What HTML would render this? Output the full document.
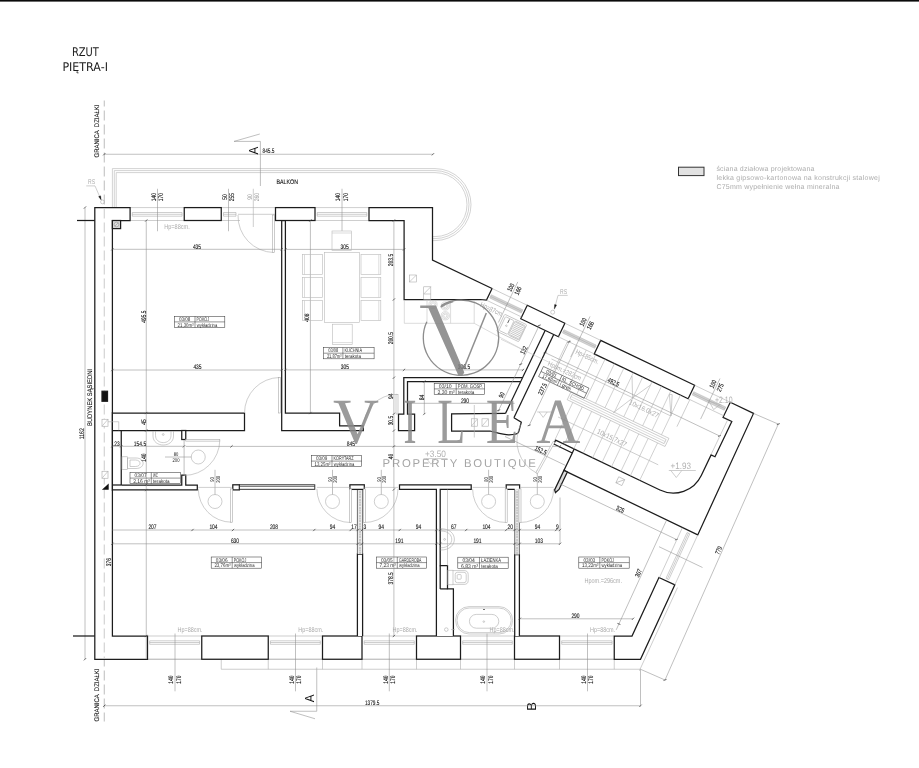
<!DOCTYPE html>
<html lang="pl"><head><meta charset="utf-8"><title>Rzut piętra I</title>
<style>
html,body{margin:0;padding:0;background:#fff;}
body{width:919px;height:768px;overflow:hidden;position:relative;font-family:"Liberation Sans",sans-serif;}
svg{position:absolute;left:0;top:0;display:block;will-change:transform;text-rendering:geometricPrecision}
.w{fill:#fff;stroke:#1c1c1c;stroke-width:1.25;stroke-linejoin:miter}
.wn{fill:none;stroke:#1c1c1c;stroke-width:1.25;stroke-linejoin:miter}
.w2{fill:#fff;stroke:#222;stroke-width:0.9}
.t{fill:none;stroke:#8c8c8c;stroke-width:0.55}
.tk{fill:none;stroke:#333;stroke-width:0.7}
.g{fill:none;stroke:#adadad;stroke-width:0.6}
.st{fill:none;stroke:#b2b2b2;stroke-width:0.6}
.fu{fill:none;stroke:#bababa;stroke-width:0.6}
.gr{fill:none;stroke:#b6b6b6;stroke-width:0.6}
.gl{fill:none;stroke:#c4c4c4;stroke-width:0.6}
.gf{fill:#fff;stroke:#a9a9a9;stroke-width:0.6}
.hb{fill:#ececec;stroke:none}
.wb{fill:#d4d4d4;stroke:#a4a4a4;stroke-width:0.4}
.d{font-family:"Liberation Sans",sans-serif;font-size:6.6px;fill:#151515;stroke:#151515;stroke-width:0.12}
.ds{font-family:"Liberation Sans",sans-serif;font-size:5.5px;fill:#151515}
.dg{font-family:"Liberation Sans",sans-serif;font-size:6.6px;fill:#9a9a9a}
.gt{font-family:"Liberation Sans",sans-serif;font-size:7px;fill:#ababab}
.gb{font-family:"Liberation Sans",sans-serif;font-size:9.3px;fill:#b2b2b2}
.lg{font-family:"Liberation Sans",sans-serif;font-size:7px;fill:#adadad}
.tg{fill:none;stroke:#3a3a3a;stroke-width:0.55}
.tt{font-family:"Liberation Sans",sans-serif;font-size:5.3px;fill:#2c2c2c}
.ti{font-family:"DejaVu Sans","Liberation Sans",sans-serif;font-size:12px;fill:#1a1a1a}
.sec{font-family:"Liberation Sans",sans-serif;font-size:13px;fill:#111}
.wm{fill:#808080}
</style></head><body>
<svg width="919" height="768" viewBox="0 0 919 768">
<rect x="0" y="0" width="919" height="1.6" fill="#0a0a0a"/>
<text class="ti" x="85.4" y="56.3" text-anchor="middle" textLength="27" lengthAdjust="spacingAndGlyphs">RZUT</text>
<text class="ti" x="85.2" y="70.6" text-anchor="middle" textLength="45.5" lengthAdjust="spacingAndGlyphs">PIĘTRA-I</text>
<line x1="104.25" y1="100.5" x2="104.25" y2="721.5" stroke="#ababab" stroke-width="0.8" stroke-dasharray="10 4" stroke-dashoffset="4"/>
<text class="d" transform="translate(99.4 131) rotate(-90)" text-anchor="middle" textLength="53" lengthAdjust="spacingAndGlyphs">GRANICA  DZIAŁKI</text>
<text class="d" transform="translate(99.4 695) rotate(-90)" text-anchor="middle" textLength="53" lengthAdjust="spacingAndGlyphs">GRANICA  DZIAŁKI</text>
<text class="d" transform="translate(92.3 397.5) rotate(-90)" text-anchor="middle" textLength="57" lengthAdjust="spacingAndGlyphs">BUDYNEK SĄSIEDNI</text>
<path class="gr" d="M112.4 207.5 V168.6 H435 A36 36 0 0 1 435 240.6 H432.5"/>
<path class="gr" d="M114.3 207.5 V170.6 H435 A34 34 0 0 1 435 238.6 H432.5"/>
<path class="gr" d="M116.2 207.5 V172.6 H435 A32 32 0 0 1 435 236.6 H432.5"/>
<text class="d" transform="translate(287.3 184.3)" text-anchor="middle" textLength="21.5" lengthAdjust="spacingAndGlyphs">BALKON</text>
<line class="t" x1="104.25" y1="154.25" x2="433" y2="154.25"/>
<line class="tk" x1="103.12" y1="155.38" x2="105.38" y2="153.12"/>
<line class="tk" x1="431.87" y1="155.38" x2="434.13" y2="153.12"/>
<text class="d" transform="translate(268.5 153.2)" text-anchor="middle" textLength="12" lengthAdjust="spacingAndGlyphs">845.5</text>
<line class="t" x1="260.4" y1="141.4" x2="260.4" y2="186"/>
<line class="t" x1="234" y1="141.4" x2="260.4" y2="141.4"/>
<line class="t" x1="234" y1="141.4" x2="259.8" y2="134"/>
<text class="sec" transform="translate(257.6 150.5) rotate(-90)" text-anchor="middle" textLength="7.8" lengthAdjust="spacingAndGlyphs">A</text>
<line class="t" x1="316.75" y1="667.5" x2="316.75" y2="711.25"/>
<line class="t" x1="290" y1="711.25" x2="316.75" y2="711.25"/>
<line class="t" x1="290" y1="711.25" x2="315" y2="718.75"/>
<text class="sec" transform="translate(313.8 698.4) rotate(-90)" text-anchor="middle" textLength="7.8" lengthAdjust="spacingAndGlyphs">A</text>
<text class="sec" transform="translate(536.3 706.5) rotate(-90)" text-anchor="middle">B</text>
<line class="t" x1="104.25" y1="705.75" x2="640.5" y2="705.75"/>
<line class="tk" x1="103.12" y1="706.88" x2="105.38" y2="704.62"/>
<line class="tk" x1="639.37" y1="706.88" x2="641.63" y2="704.62"/>
<text class="d" transform="translate(372.2 704.9)" text-anchor="middle" textLength="14.5" lengthAdjust="spacingAndGlyphs">1379.5</text>
<line class="t" x1="640.5" y1="669.25" x2="640.5" y2="706.5"/>
<line class="t" x1="85" y1="207.5" x2="85" y2="659.25"/>
<line class="tk" x1="83.87" y1="208.63" x2="86.13" y2="206.37"/>
<line class="tk" x1="83.87" y1="660.38" x2="86.13" y2="658.12"/>
<text class="d" transform="translate(84.3 433.75) rotate(-90)" text-anchor="middle" textLength="11" lengthAdjust="spacingAndGlyphs">1162</text>
<line class="g" x1="130.1" y1="207.6" x2="184.25" y2="207.6"/>
<line class="g" x1="130.1" y1="220.5" x2="184.25" y2="220.5"/>
<line class="g" x1="132.3" y1="212.5" x2="182.05" y2="212.5"/>
<line class="g" x1="132.3" y1="214.3" x2="182.05" y2="214.3"/>
<line class="g" x1="132.3" y1="216.2" x2="182.05" y2="216.2"/>
<line class="g" x1="132.3" y1="212.5" x2="132.3" y2="216.2"/>
<line class="g" x1="182.05" y1="212.5" x2="182.05" y2="216.2"/>
<line class="g" x1="315" y1="207.6" x2="369" y2="207.6"/>
<line class="g" x1="315" y1="220.5" x2="369" y2="220.5"/>
<line class="g" x1="317.2" y1="212.5" x2="366.8" y2="212.5"/>
<line class="g" x1="317.2" y1="214.3" x2="366.8" y2="214.3"/>
<line class="g" x1="317.2" y1="216.2" x2="366.8" y2="216.2"/>
<line class="g" x1="317.2" y1="212.5" x2="317.2" y2="216.2"/>
<line class="g" x1="366.8" y1="212.5" x2="366.8" y2="216.2"/>
<line class="g" x1="221.25" y1="207.6" x2="275.5" y2="207.6"/>
<line class="g" x1="221.25" y1="220.5" x2="240" y2="220.5"/>
<line class="g" x1="223.5" y1="212.5" x2="236" y2="212.5"/>
<line class="g" x1="223.5" y1="214.3" x2="236" y2="214.3"/>
<line class="g" x1="223.5" y1="216.2" x2="236" y2="216.2"/>
<line class="g" x1="223.5" y1="212.5" x2="223.5" y2="216.2"/>
<line class="g" x1="236" y1="212.5" x2="236" y2="216.2"/>
<line class="g" x1="238" y1="214.3" x2="275.5" y2="214.3"/>
<path class="g" d="M238 215 A36.5 36.5 0 0 0 273.8 252.5"/>
<rect class="gf" x="272.6" y="215" width="2" height="37.5"/>
<line class="g" x1="147.5" y1="636" x2="201.75" y2="636"/>
<line class="g" x1="147.5" y1="659.25" x2="201.75" y2="659.25"/>
<line class="g" x1="149.7" y1="640.8" x2="199.55" y2="640.8"/>
<line class="g" x1="149.7" y1="642.5" x2="199.55" y2="642.5"/>
<line class="g" x1="149.7" y1="644.3" x2="199.55" y2="644.3"/>
<line class="g" x1="149.7" y1="640.8" x2="149.7" y2="644.3"/>
<line class="g" x1="199.55" y1="640.8" x2="199.55" y2="644.3"/>
<line class="g" x1="268.25" y1="636" x2="322.5" y2="636"/>
<line class="g" x1="268.25" y1="659.25" x2="322.5" y2="659.25"/>
<line class="g" x1="270.45" y1="640.8" x2="320.3" y2="640.8"/>
<line class="g" x1="270.45" y1="642.5" x2="320.3" y2="642.5"/>
<line class="g" x1="270.45" y1="644.3" x2="320.3" y2="644.3"/>
<line class="g" x1="270.45" y1="640.8" x2="270.45" y2="644.3"/>
<line class="g" x1="320.3" y1="640.8" x2="320.3" y2="644.3"/>
<line class="g" x1="362" y1="636" x2="416.5" y2="636"/>
<line class="g" x1="362" y1="659.25" x2="416.5" y2="659.25"/>
<line class="g" x1="364.2" y1="640.8" x2="414.3" y2="640.8"/>
<line class="g" x1="364.2" y1="642.5" x2="414.3" y2="642.5"/>
<line class="g" x1="364.2" y1="644.3" x2="414.3" y2="644.3"/>
<line class="g" x1="364.2" y1="640.8" x2="364.2" y2="644.3"/>
<line class="g" x1="414.3" y1="640.8" x2="414.3" y2="644.3"/>
<line class="g" x1="460.5" y1="636" x2="514.5" y2="636"/>
<line class="g" x1="460.5" y1="659.25" x2="514.5" y2="659.25"/>
<line class="g" x1="462.7" y1="640.8" x2="512.3" y2="640.8"/>
<line class="g" x1="462.7" y1="642.5" x2="512.3" y2="642.5"/>
<line class="g" x1="462.7" y1="644.3" x2="512.3" y2="644.3"/>
<line class="g" x1="462.7" y1="640.8" x2="462.7" y2="644.3"/>
<line class="g" x1="512.3" y1="640.8" x2="512.3" y2="644.3"/>
<line class="g" x1="559.5" y1="636" x2="614.25" y2="636"/>
<line class="g" x1="559.5" y1="659.25" x2="614.25" y2="659.25"/>
<line class="g" x1="561.7" y1="640.8" x2="612.05" y2="640.8"/>
<line class="g" x1="561.7" y1="642.5" x2="612.05" y2="642.5"/>
<line class="g" x1="561.7" y1="644.3" x2="612.05" y2="644.3"/>
<line class="g" x1="561.7" y1="640.8" x2="561.7" y2="644.3"/>
<line class="g" x1="612.05" y1="640.8" x2="612.05" y2="644.3"/>
<line class="g" x1="221.25" y1="669.25" x2="640.5" y2="669.25"/>
<line class="g" x1="221.25" y1="659.25" x2="221.25" y2="669.25"/>
<line class="g" x1="268.25" y1="659.25" x2="268.25" y2="669.25"/>
<line class="g" x1="322.5" y1="659.25" x2="322.5" y2="669.25"/>
<line class="g" x1="362" y1="659.25" x2="362" y2="669.25"/>
<line class="g" x1="416.5" y1="659.25" x2="416.5" y2="669.25"/>
<line class="g" x1="460.5" y1="659.25" x2="460.5" y2="669.25"/>
<line class="g" x1="514.5" y1="659.25" x2="514.5" y2="669.25"/>
<line class="g" x1="559.5" y1="659.25" x2="559.5" y2="669.25"/>
<line class="g" x1="614.25" y1="659.25" x2="614.25" y2="669.25"/>
<line class="g" x1="147.5" y1="659.25" x2="640.5" y2="659.25"/>
<polygon class="w" points="94.8,207.7 130.1,207.7 130.1,220.5 112.4,220.5 112.4,636 147.5,636 147.5,659.25 94.8,659.25"/>
<line class="wn" x1="77" y1="220.5" x2="94.8" y2="220.5"/>
<line class="wn" x1="73" y1="636" x2="94.8" y2="636"/>
<line x1="104.25" y1="209" x2="104.25" y2="658" stroke="#bdbdbd" stroke-width="0.8" stroke-dasharray="10 4" stroke-dashoffset="0.5"/>
<rect class="w" x="184.25" y="207.6" width="37" height="12.9"/>
<rect class="w" x="275.5" y="207.6" width="39.5" height="12.9"/>
<polygon class="w" points="369,207.6 432.5,207.6 432.5,260 492.05,288.46 486.49,300.09 480.3,299.5 404.1,299.5 404.1,220.5 369,220.5"/>
<rect class="w" x="201.75" y="636" width="66.5" height="23.25"/>
<rect class="w" x="322.5" y="636" width="39.5" height="23.25"/>
<rect class="w" x="416.5" y="636" width="44" height="23.25"/>
<rect class="w" x="514.5" y="636" width="45" height="23.25"/>
<polygon class="w" points="614.25,636 632,636 658.93,577.51 674.84,584.81 640.5,659.25 614.25,659.25"/>
<rect class="w" x="112.4" y="220.5" width="8.2" height="8.1" style="fill:#ddd"/>
<circle class="t" cx="116.5" cy="224.5" r="2.4"/>
<line class="t" x1="114.8" y1="226.2" x2="118.2" y2="222.8"/>
<polyline class="w" points="112.4,413 244.5,413 244.5,430.5 112.4,430.5"/>
<line class="wn" x1="121.25" y1="430.5" x2="121.25" y2="485"/>
<rect class="w" x="181.75" y="430.5" width="4" height="9"/>
<polyline class="w" points="121.25,485 181.75,485 181.75,475.2 185.75,475.2 185.75,485 197.3,485 197.3,489.8 112.4,489.8"/>
<line class="wn" x1="112.4" y1="412" x2="112.4" y2="491"/>
<line class="wn" x1="112.4" y1="485" x2="121.25" y2="485"/>
<polygon class="w" points="281.7,220.5 285.4,220.5 285.4,413 339.6,413 339.6,425.8 363.3,425.8 363.3,430.6 281.7,430.6"/>
<polyline class="w" points="522.55,377.7 403.8,377.7 403.8,414 398.5,414 398.5,430.6 414.6,430.6 414.6,414 407.5,414 407.5,381.5 520.74,381.5"/>
<polyline class="wn" points="545.13,330.44 505.47,413.46"/>
<path class="wn" d="M505.47 413.46 L451.6 413.8 V431 L490 431 C500 433.5 505 435 509 434.8 C515 434.6 518.5 434 518.6 432 L521.3 422.2 L521.28 422.12 L513.91 417.82"/>
<polyline class="wn" points="513.91,417.82 553.71,334.54"/>
<polygon class="w" points="527.24,305.27 564.87,323.25 558.4,336.78 520.77,318.8"/>
<polygon class="w" points="600.69,340.36 694.61,385.25 688.15,398.78 594.22,353.9"/>
<path class="w" d="M730.25 402.28 L753.5 413.4 L697.74 534.92 L563.92 470.42 L572.28 452.92 L553.79 444.08 L555.64 440.2 L659.95 490.04 A31 31 0 0 0 701.28 475.43 L711.11 454.86 L714.99 456.72 L731.81 421.53 L723.05 417.34 Z"/>
<line class="wn" x1="574.14" y1="449.04" x2="572.28" y2="452.92"/>
<polygon class="w" points="563.92,470.42 567.35,472.06 559.03,489.47 555.46,492.54 554.61,489.91" style="fill:#ddd"/>
<rect class="w" x="232.8" y="484.8" width="6.6" height="5.1"/>
<rect class="w2" x="239.4" y="484.8" width="75.4" height="4.5"/>
<line class="tk" x1="239.4" y1="486.4" x2="314.8" y2="486.4"/>
<polyline class="w" points="357.4,636 357.4,554 362.6,554 362.6,636"/>
<rect class="hb" x="357.4" y="489.4" width="5.2" height="64.6"/>
<line x1="360" y1="489.4" x2="360" y2="554" stroke="#9a9a9a" stroke-width="1.6" stroke-dasharray="0.6 1"/>
<line class="tk" x1="357.4" y1="489.4" x2="357.4" y2="554"/>
<line class="tk" x1="362.6" y1="489.4" x2="362.6" y2="554"/>
<rect class="w" x="349.9" y="484.8" width="14.4" height="4.6"/>
<polyline class="w" points="436.4,636 436.4,489.3 399.5,489.3 399.5,484.8 471.2,484.8 471.2,489.3 440.2,489.3 440.2,565.6 447.5,565.6 447.5,588.9 453.4,588.9 453.4,636"/>
<line class="wn" x1="440.2" y1="565.6" x2="440.2" y2="588.9"/>
<line class="wn" x1="440.2" y1="588.9" x2="447.5" y2="588.9"/>
<polyline class="w" points="514.7,636 514.7,554.6 519.4,554.6 519.4,636"/>
<rect class="hb" x="514.7" y="489.4" width="4.7" height="65.2"/>
<line x1="517.05" y1="489.4" x2="517.05" y2="554.6" stroke="#9a9a9a" stroke-width="1.6" stroke-dasharray="0.6 1"/>
<line class="tk" x1="514.7" y1="489.4" x2="514.7" y2="554.6"/>
<line class="tk" x1="519.4" y1="489.4" x2="519.4" y2="554.6"/>
<polyline class="w" points="514.7,489.4 506.2,489.4 506.2,484.8 519.6,484.8 519.6,489.4"/>
<rect class="w" x="102" y="391.25" width="5.5" height="10" style="fill:#111"/>
<rect class="gf" x="102" y="419.25" width="6" height="7"/>
<line class="g" x1="102" y1="426.25" x2="108" y2="419.25"/>
<rect class="gf" x="102" y="471.25" width="6" height="7"/>
<line class="g" x1="102" y1="478.25" x2="108" y2="471.25"/>
<path class="g" d="M108 421.75 H118.75 V430.3"/>
<polygon class="w" points="108.7,483.4 108.7,489.7 101.9,489.7" style="fill:#111;stroke:none"/>
<text class="gt" transform="translate(91.5 183.6)" text-anchor="middle" textLength="7" lengthAdjust="spacingAndGlyphs">RS</text>
<path class="g" d="M86.25 185.9 H95 L100.3 198"/>
<polygon class="w" points="101.2,200 98.6,196.6 100.6,195.8" style="fill:#111;stroke-width:0.3"/>
<circle class="g" cx="102.5" cy="201.9" r="1.9"/>
<text class="gt" transform="translate(563.6 293.7)" text-anchor="middle" textLength="7" lengthAdjust="spacingAndGlyphs">RS</text>
<path class="g" d="M567.7 295.4 H558 L555.2 306"/>
<polygon class="w" points="554.3,309.2 554.6,304.4 556.6,305" style="fill:#111;stroke-width:0.3"/>
<circle class="g" cx="552.7" cy="312.2" r="2"/>
<line class="t" x1="112.4" y1="249.3" x2="281.7" y2="249.3"/>
<line class="tk" x1="111.27" y1="250.43" x2="113.53" y2="248.17"/>
<line class="tk" x1="280.57" y1="250.43" x2="282.83" y2="248.17"/>
<text class="d" transform="translate(197 248.5)" text-anchor="middle" textLength="8.25" lengthAdjust="spacingAndGlyphs">435</text>
<line class="t" x1="112.4" y1="370" x2="281.7" y2="370"/>
<line class="tk" x1="111.27" y1="371.13" x2="113.53" y2="368.87"/>
<line class="tk" x1="280.57" y1="371.13" x2="282.83" y2="368.87"/>
<text class="d" transform="translate(197.5 369.1)" text-anchor="middle" textLength="8.25" lengthAdjust="spacingAndGlyphs">435</text>
<line class="t" x1="146.25" y1="220.5" x2="146.25" y2="659.25"/>
<line class="tk" x1="145.12" y1="221.63" x2="147.38" y2="219.37"/>
<line class="tk" x1="145.12" y1="414.13" x2="147.38" y2="411.87"/>
<line class="tk" x1="145.12" y1="431.63" x2="147.38" y2="429.37"/>
<line class="tk" x1="145.12" y1="485.63" x2="147.38" y2="483.37"/>
<line class="tk" x1="145.12" y1="491.13" x2="147.38" y2="488.87"/>
<line class="tk" x1="145.12" y1="637.13" x2="147.38" y2="634.87"/>
<text class="d" transform="translate(145.5 316.6) rotate(-90)" text-anchor="middle" textLength="12.3" lengthAdjust="spacingAndGlyphs">495.5</text>
<text class="d" transform="translate(145.5 422) rotate(-90)" text-anchor="middle" textLength="5.5" lengthAdjust="spacingAndGlyphs">45</text>
<text class="d" transform="translate(145.5 457.5) rotate(-90)" text-anchor="middle" textLength="8.25" lengthAdjust="spacingAndGlyphs">140</text>
<g transform="translate(174.4 316.3)">
<rect class="tg" x="0" y="0" width="50.4" height="11.2"/>
<line class="tg" x1="0" y1="5.6" x2="50.4" y2="5.6"/>
<line class="tg" x1="20.6" y1="0" x2="20.6" y2="11.2"/>
<text class="tt" x="4.6" y="4.8" textLength="11.4" lengthAdjust="spacingAndGlyphs">03/08</text>
<text class="tt" x="22.2" y="4.8" textLength="12.5" lengthAdjust="spacingAndGlyphs">POKÓJ</text>
<text class="tt" x="3.2" y="10.4" textLength="16" lengthAdjust="spacingAndGlyphs">21,30m²</text>
<text class="tt" x="22.4" y="10.4" textLength="20.5" lengthAdjust="spacingAndGlyphs">wykładzina</text>
</g>
<text class="gt" transform="translate(164.2 228.9)" text-anchor="start" textLength="25.5" lengthAdjust="spacingAndGlyphs">Hp=88cm.</text>
<line class="t" x1="157.5" y1="188.75" x2="157.5" y2="231.25"/>
<text class="d" transform="translate(155.9 197) rotate(-90)" text-anchor="middle" textLength="8.25" lengthAdjust="spacingAndGlyphs">140</text>
<text class="d" transform="translate(163.4 197) rotate(-90)" text-anchor="middle" textLength="8.25" lengthAdjust="spacingAndGlyphs">170</text>
<line class="t" x1="228.5" y1="188.75" x2="228.5" y2="231.25"/>
<text class="d" transform="translate(226.9 197) rotate(-90)" text-anchor="middle" textLength="5.5" lengthAdjust="spacingAndGlyphs">50</text>
<text class="d" transform="translate(234.4 197) rotate(-90)" text-anchor="middle" textLength="8.25" lengthAdjust="spacingAndGlyphs">255</text>
<line class="g" x1="253.3" y1="188.75" x2="253.3" y2="227"/>
<text class="dg" transform="translate(251.7 197) rotate(-90)" text-anchor="middle" textLength="5.5" lengthAdjust="spacingAndGlyphs">90</text>
<text class="dg" transform="translate(259.2 197) rotate(-90)" text-anchor="middle" textLength="8.25" lengthAdjust="spacingAndGlyphs">260</text>
<line class="t" x1="342" y1="188.75" x2="342" y2="231"/>
<text class="d" transform="translate(340.4 197) rotate(-90)" text-anchor="middle" textLength="8.25" lengthAdjust="spacingAndGlyphs">140</text>
<text class="d" transform="translate(347.9 197) rotate(-90)" text-anchor="middle" textLength="8.25" lengthAdjust="spacingAndGlyphs">170</text>
<path class="g" d="M279.6 377.5 A35.5 35.5 0 0 0 244.5 413"/>
<rect class="gf" x="278.6" y="377.5" width="2" height="35.5"/>
<line class="t" x1="112.4" y1="446.3" x2="184" y2="446.3"/>
<line class="tk" x1="111.27" y1="447.43" x2="113.53" y2="445.17"/>
<line class="tk" x1="120.12" y1="447.43" x2="122.38" y2="445.17"/>
<line class="tk" x1="182.87" y1="447.43" x2="185.13" y2="445.17"/>
<text class="d" transform="translate(117 445.7)" text-anchor="middle" textLength="5.5" lengthAdjust="spacingAndGlyphs">23</text>
<text class="d" transform="translate(140 445.7)" text-anchor="middle" textLength="12.3" lengthAdjust="spacingAndGlyphs">154.5</text>
<g transform="translate(130 472.5)">
<rect class="tg" x="0" y="0" width="50.4" height="11.2"/>
<line class="tg" x1="0" y1="5.6" x2="50.4" y2="5.6"/>
<line class="tg" x1="21.3" y1="0" x2="21.3" y2="11.2"/>
<text class="tt" x="4.6" y="4.8" textLength="12.1" lengthAdjust="spacingAndGlyphs">03/07</text>
<text class="tt" x="22.9" y="4.8" textLength="5" lengthAdjust="spacingAndGlyphs">WC</text>
<text class="tt" x="3.2" y="10.4" textLength="16.7" lengthAdjust="spacingAndGlyphs">2,16 m²</text>
<text class="tt" x="23.1" y="10.4" textLength="16.4" lengthAdjust="spacingAndGlyphs">terakota</text>
</g>
<path class="g" d="M219.8 440.3 A35.6 35.6 0 0 1 184.2 475.4"/>
<rect class="gf" x="185.75" y="439.5" width="34.05" height="1.6"/>
<line class="t" x1="184.1" y1="440" x2="184.1" y2="475"/>
<circle class="g" cx="198.25" cy="457" r="7"/>
<line class="t" x1="165" y1="457" x2="191.25" y2="457"/>
<text class="ds" transform="translate(176 456.1)" text-anchor="middle" textLength="4.62" lengthAdjust="spacingAndGlyphs">80</text>
<text class="ds" transform="translate(176 461.9)" text-anchor="middle" textLength="6.93" lengthAdjust="spacingAndGlyphs">200</text>
<path class="g" d="M153 431 V436 C153 448 173.5 448 173.5 436 V431"/>
<path class="g" d="M155.5 431 V435.5 C155.5 445 171 445 171 435.5 V431"/>
<circle class="g" cx="163.2" cy="434.5" r="0.9"/>
<rect class="g" x="122" y="456.8" width="5.5" height="12.7"/>
<path class="g" d="M127.5 458 H136 C145.5 458 145.5 468.5 136 468.5 H127.5 Z"/>
<path class="g" d="M130 460 H135.5 C141.5 460 141.5 466.5 135.5 466.5 H130 Z"/>
<line class="t" x1="112.4" y1="446.4" x2="112.4" y2="446.4"/>
<line class="t" x1="185.75" y1="446.4" x2="560" y2="446.4"/>
<line class="tk" x1="230.37" y1="447.53" x2="232.63" y2="445.27"/>
<line class="tk" x1="558.87" y1="447.53" x2="561.13" y2="445.27"/>
<text class="d" transform="translate(350.8 445.6)" text-anchor="middle" textLength="8.25" lengthAdjust="spacingAndGlyphs">845</text>
<g transform="translate(311.3 455.5)">
<rect class="tg" x="0" y="0" width="50.4" height="11.2"/>
<line class="tg" x1="0" y1="5.6" x2="50.4" y2="5.6"/>
<line class="tg" x1="20.7" y1="0" x2="20.7" y2="11.2"/>
<text class="tt" x="4.6" y="4.8" textLength="11.5" lengthAdjust="spacingAndGlyphs">03/09</text>
<text class="tt" x="22.3" y="4.8" textLength="20" lengthAdjust="spacingAndGlyphs">KORYTARZ</text>
<text class="tt" x="3.2" y="10.4" textLength="16.1" lengthAdjust="spacingAndGlyphs">13,25m²</text>
<text class="tt" x="22.5" y="10.4" textLength="20.5" lengthAdjust="spacingAndGlyphs">wykładzina</text>
</g>
<path class="g" d="M231.6 522.2 A33.3 33.3 0 0 1 198.3 488.9"/>
<rect class="gf" x="230.6" y="488.9" width="2" height="33.3"/>
<circle class="g" cx="215" cy="501.5" r="7"/>
<line class="t" x1="215" y1="469.8" x2="215" y2="494.5"/>
<line class="g" x1="231.6" y1="487.4" x2="198.3" y2="487.4"/>
<text class="ds" transform="translate(214.3 479.4) rotate(-90)" text-anchor="middle" textLength="4.62" lengthAdjust="spacingAndGlyphs">90</text>
<text class="ds" transform="translate(219.8 479.4) rotate(-90)" text-anchor="middle" textLength="6.93" lengthAdjust="spacingAndGlyphs">200</text>
<path class="g" d="M350.5 522.5 A33.6 33.6 0 0 1 316.9 488.9"/>
<rect class="gf" x="349.5" y="488.9" width="2" height="33.6"/>
<circle class="g" cx="332.5" cy="501.5" r="7"/>
<line class="t" x1="332.5" y1="469.8" x2="332.5" y2="494.5"/>
<line class="g" x1="350.5" y1="487.4" x2="316.9" y2="487.4"/>
<text class="ds" transform="translate(331.8 479.4) rotate(-90)" text-anchor="middle" textLength="4.62" lengthAdjust="spacingAndGlyphs">90</text>
<text class="ds" transform="translate(337.3 479.4) rotate(-90)" text-anchor="middle" textLength="6.93" lengthAdjust="spacingAndGlyphs">200</text>
<path class="g" d="M364.4 522.5 A33.6 33.6 0 0 0 398 488.9"/>
<rect class="gf" x="363.4" y="488.9" width="2" height="33.6"/>
<circle class="g" cx="381.3" cy="501.5" r="7"/>
<line class="t" x1="381.3" y1="469.8" x2="381.3" y2="494.5"/>
<line class="g" x1="364.4" y1="487.4" x2="398" y2="487.4"/>
<text class="ds" transform="translate(380.6 479.4) rotate(-90)" text-anchor="middle" textLength="4.62" lengthAdjust="spacingAndGlyphs">90</text>
<text class="ds" transform="translate(386.1 479.4) rotate(-90)" text-anchor="middle" textLength="6.93" lengthAdjust="spacingAndGlyphs">200</text>
<path class="g" d="M506.2 522.5 A33.6 33.6 0 0 1 472.6 488.9"/>
<rect class="gf" x="505.2" y="488.9" width="2" height="33.6"/>
<circle class="g" cx="488.6" cy="501.5" r="7"/>
<line class="t" x1="488.6" y1="469.8" x2="488.6" y2="494.5"/>
<line class="g" x1="506.2" y1="487.4" x2="472.6" y2="487.4"/>
<text class="ds" transform="translate(487.9 479.4) rotate(-90)" text-anchor="middle" textLength="4.62" lengthAdjust="spacingAndGlyphs">80</text>
<text class="ds" transform="translate(493.4 479.4) rotate(-90)" text-anchor="middle" textLength="6.93" lengthAdjust="spacingAndGlyphs">200</text>
<path class="g" d="M520 522.5 A33.6 33.6 0 0 0 553.6 488.9"/>
<rect class="gf" x="519" y="488.9" width="2" height="33.6"/>
<circle class="g" cx="537.3" cy="501.5" r="7"/>
<line class="t" x1="537.3" y1="469.8" x2="537.3" y2="494.5"/>
<line class="g" x1="520" y1="487.4" x2="553.6" y2="487.4"/>
<text class="ds" transform="translate(536.6 479.4) rotate(-90)" text-anchor="middle" textLength="4.62" lengthAdjust="spacingAndGlyphs">90</text>
<text class="ds" transform="translate(542.1 479.4) rotate(-90)" text-anchor="middle" textLength="6.93" lengthAdjust="spacingAndGlyphs">200</text>
<line class="t" x1="112.4" y1="530" x2="560" y2="530"/>
<line class="tk" x1="191.37" y1="531.13" x2="193.63" y2="528.87"/>
<line class="tk" x1="231.87" y1="531.13" x2="234.13" y2="528.87"/>
<line class="tk" x1="313.17" y1="531.13" x2="315.43" y2="528.87"/>
<line class="tk" x1="349.57" y1="531.13" x2="351.83" y2="528.87"/>
<line class="tk" x1="356.57" y1="531.13" x2="358.83" y2="528.87"/>
<line class="tk" x1="360.87" y1="531.13" x2="363.13" y2="528.87"/>
<line class="tk" x1="398.57" y1="531.13" x2="400.83" y2="528.87"/>
<line class="tk" x1="435.27" y1="531.13" x2="437.53" y2="528.87"/>
<line class="tk" x1="439.17" y1="531.13" x2="441.43" y2="528.87"/>
<line class="tk" x1="465.07" y1="531.13" x2="467.33" y2="528.87"/>
<line class="tk" x1="505.07" y1="531.13" x2="507.33" y2="528.87"/>
<line class="tk" x1="513.47" y1="531.13" x2="515.73" y2="528.87"/>
<line class="tk" x1="518.47" y1="531.13" x2="520.73" y2="528.87"/>
<line class="tk" x1="555.07" y1="531.13" x2="557.33" y2="528.87"/>
<line class="tk" x1="558.87" y1="531.13" x2="561.13" y2="528.87"/>
<text class="d" transform="translate(213.5 529.3)" text-anchor="middle" textLength="8.25" lengthAdjust="spacingAndGlyphs">104</text>
<text class="d" transform="translate(274 529.3)" text-anchor="middle" textLength="8.25" lengthAdjust="spacingAndGlyphs">208</text>
<text class="d" transform="translate(332.5 529.3)" text-anchor="middle" textLength="5.5" lengthAdjust="spacingAndGlyphs">94</text>
<text class="d" transform="translate(354 529.3)" text-anchor="middle" textLength="5.5" lengthAdjust="spacingAndGlyphs">17</text>
<text class="d" transform="translate(364.8 529.3)" text-anchor="middle" textLength="2.75" lengthAdjust="spacingAndGlyphs">3</text>
<text class="d" transform="translate(381.3 529.3)" text-anchor="middle" textLength="5.5" lengthAdjust="spacingAndGlyphs">94</text>
<text class="d" transform="translate(418.5 529.3)" text-anchor="middle" textLength="5.5" lengthAdjust="spacingAndGlyphs">94</text>
<text class="d" transform="translate(453.8 529.3)" text-anchor="middle" textLength="5.5" lengthAdjust="spacingAndGlyphs">67</text>
<text class="d" transform="translate(486.5 529.3)" text-anchor="middle" textLength="8.25" lengthAdjust="spacingAndGlyphs">104</text>
<text class="d" transform="translate(510.2 529.3)" text-anchor="middle" textLength="5.5" lengthAdjust="spacingAndGlyphs">20</text>
<text class="d" transform="translate(537.5 529.3)" text-anchor="middle" textLength="5.5" lengthAdjust="spacingAndGlyphs">94</text>
<text class="d" transform="translate(557.3 529.3)" text-anchor="middle" textLength="2.75" lengthAdjust="spacingAndGlyphs">9</text>
<text class="d" transform="translate(152.5 529.3)" text-anchor="middle" textLength="8.25" lengthAdjust="spacingAndGlyphs">207</text>
<line class="t" x1="112.4" y1="543.8" x2="560" y2="543.8"/>
<line class="tk" x1="111.27" y1="544.93" x2="113.53" y2="542.67"/>
<line class="tk" x1="356.57" y1="544.93" x2="358.83" y2="542.67"/>
<line class="tk" x1="360.87" y1="544.93" x2="363.13" y2="542.67"/>
<line class="tk" x1="435.27" y1="544.93" x2="437.53" y2="542.67"/>
<line class="tk" x1="439.17" y1="544.93" x2="441.43" y2="542.67"/>
<line class="tk" x1="513.47" y1="544.93" x2="515.73" y2="542.67"/>
<line class="tk" x1="518.47" y1="544.93" x2="520.73" y2="542.67"/>
<line class="tk" x1="558.87" y1="544.93" x2="561.13" y2="542.67"/>
<text class="d" transform="translate(235 542.9)" text-anchor="middle" textLength="8.25" lengthAdjust="spacingAndGlyphs">630</text>
<text class="d" transform="translate(399.3 542.9)" text-anchor="middle" textLength="8.25" lengthAdjust="spacingAndGlyphs">191</text>
<text class="d" transform="translate(477.5 542.9)" text-anchor="middle" textLength="8.25" lengthAdjust="spacingAndGlyphs">191</text>
<text class="d" transform="translate(538.8 542.9)" text-anchor="middle" textLength="8.25" lengthAdjust="spacingAndGlyphs">103</text>
<line class="t" x1="560" y1="497.5" x2="560" y2="543.8"/>
<g transform="translate(211.2 557)">
<rect class="tg" x="0" y="0" width="50.4" height="11.2"/>
<line class="tg" x1="0" y1="5.6" x2="50.4" y2="5.6"/>
<line class="tg" x1="21" y1="0" x2="21" y2="11.2"/>
<text class="tt" x="4.6" y="4.8" textLength="11.8" lengthAdjust="spacingAndGlyphs">03/06</text>
<text class="tt" x="22.6" y="4.8" textLength="12.5" lengthAdjust="spacingAndGlyphs">POKÓJ</text>
<text class="tt" x="3.2" y="10.4" textLength="16.4" lengthAdjust="spacingAndGlyphs">23,76m²</text>
<text class="tt" x="22.8" y="10.4" textLength="20.5" lengthAdjust="spacingAndGlyphs">wykładzina</text>
</g>
<g transform="translate(376.3 557)">
<rect class="tg" x="0" y="0" width="50.4" height="11.2"/>
<line class="tg" x1="0" y1="5.6" x2="50.4" y2="5.6"/>
<line class="tg" x1="21" y1="0" x2="21" y2="11.2"/>
<text class="tt" x="4.6" y="4.8" textLength="11.8" lengthAdjust="spacingAndGlyphs">03/05</text>
<text class="tt" x="22.6" y="4.8" textLength="22.5" lengthAdjust="spacingAndGlyphs">GARDEROBA</text>
<text class="tt" x="3.2" y="10.4" textLength="16.4" lengthAdjust="spacingAndGlyphs">7,23 m²</text>
<text class="tt" x="22.8" y="10.4" textLength="20.5" lengthAdjust="spacingAndGlyphs">wykładzina</text>
</g>
<g transform="translate(457.8 557.2)">
<rect class="tg" x="0" y="0" width="50.4" height="11.2"/>
<line class="tg" x1="0" y1="5.6" x2="50.4" y2="5.6"/>
<line class="tg" x1="21.7" y1="0" x2="21.7" y2="11.2"/>
<text class="tt" x="4.6" y="4.8" textLength="12.5" lengthAdjust="spacingAndGlyphs">03/04</text>
<text class="tt" x="23.3" y="4.8" textLength="20" lengthAdjust="spacingAndGlyphs">ŁAZIENKA</text>
<text class="tt" x="3.2" y="10.4" textLength="17.1" lengthAdjust="spacingAndGlyphs">6,83 m²</text>
<text class="tt" x="23.5" y="10.4" textLength="16.4" lengthAdjust="spacingAndGlyphs">terakota</text>
</g>
<g transform="translate(578.8 557)">
<rect class="tg" x="0" y="0" width="50.4" height="11.2"/>
<line class="tg" x1="0" y1="5.6" x2="50.4" y2="5.6"/>
<line class="tg" x1="21" y1="0" x2="21" y2="11.2"/>
<text class="tt" x="4.6" y="4.8" textLength="11.8" lengthAdjust="spacingAndGlyphs">03/03</text>
<text class="tt" x="22.6" y="4.8" textLength="12.5" lengthAdjust="spacingAndGlyphs">POKÓJ</text>
<text class="tt" x="3.2" y="10.4" textLength="16.4" lengthAdjust="spacingAndGlyphs">13,22m²</text>
<text class="tt" x="22.8" y="10.4" textLength="20.5" lengthAdjust="spacingAndGlyphs">wykładzina</text>
</g>
<text class="gt" transform="translate(584.5 582.6)" text-anchor="start" textLength="37.5" lengthAdjust="spacingAndGlyphs">Hpom.=296cm.</text>
<line class="t" x1="393.9" y1="220.5" x2="393.9" y2="636"/>
<line class="tk" x1="392.77" y1="221.63" x2="395.03" y2="219.37"/>
<line class="tk" x1="392.77" y1="300.63" x2="395.03" y2="298.37"/>
<line class="tk" x1="392.77" y1="378.83" x2="395.03" y2="376.57"/>
<line class="tk" x1="392.77" y1="414.93" x2="395.03" y2="412.67"/>
<line class="tk" x1="392.77" y1="431.73" x2="395.03" y2="429.47"/>
<line class="tk" x1="392.77" y1="447.53" x2="395.03" y2="445.27"/>
<line class="tk" x1="392.77" y1="490.63" x2="395.03" y2="488.37"/>
<line class="tk" x1="392.77" y1="637.13" x2="395.03" y2="634.87"/>
<text class="d" transform="translate(392.7 260) rotate(-90)" text-anchor="middle" textLength="12.3" lengthAdjust="spacingAndGlyphs">203.5</text>
<text class="d" transform="translate(392.9 338.2) rotate(-90)" text-anchor="middle" textLength="12.3" lengthAdjust="spacingAndGlyphs">200.5</text>
<text class="d" transform="translate(392.7 396.2) rotate(-90)" text-anchor="middle" textLength="5.5" lengthAdjust="spacingAndGlyphs">94</text>
<text class="d" transform="translate(392.7 420.6) rotate(-90)" text-anchor="middle" textLength="9.55" lengthAdjust="spacingAndGlyphs">30.5</text>
<text class="d" transform="translate(392.7 456.6) rotate(-90)" text-anchor="middle" textLength="5.5" lengthAdjust="spacingAndGlyphs">40</text>
<text class="d" transform="translate(392.5 578.4) rotate(-90)" text-anchor="middle" textLength="12.3" lengthAdjust="spacingAndGlyphs">378.5</text>
<text class="d" transform="translate(110.7 562) rotate(-90)" text-anchor="middle" textLength="8.25" lengthAdjust="spacingAndGlyphs">376</text>
<text class="gt" transform="translate(177.5 632.3)" text-anchor="start" textLength="25" lengthAdjust="spacingAndGlyphs">Hp=88cm.</text>
<text class="gt" transform="translate(298.3 632.3)" text-anchor="start" textLength="25" lengthAdjust="spacingAndGlyphs">Hp=88cm.</text>
<text class="gt" transform="translate(392.5 632.3)" text-anchor="start" textLength="25" lengthAdjust="spacingAndGlyphs">Hp=88cm.</text>
<text class="gt" transform="translate(590 632.3)" text-anchor="start" textLength="25" lengthAdjust="spacingAndGlyphs">Hp=88cm.</text>
<text class="gt" transform="translate(489.6 632.3)" text-anchor="start" textLength="25" lengthAdjust="spacingAndGlyphs">Hp=88cm.</text>
<line class="t" x1="175" y1="633.5" x2="175" y2="691.3"/>
<text class="d" transform="translate(173.4 679.6) rotate(-90)" text-anchor="middle" textLength="8.25" lengthAdjust="spacingAndGlyphs">140</text>
<text class="d" transform="translate(180.9 679.6) rotate(-90)" text-anchor="middle" textLength="8.25" lengthAdjust="spacingAndGlyphs">170</text>
<line class="t" x1="295.5" y1="633.5" x2="295.5" y2="691.3"/>
<text class="d" transform="translate(293.9 679.6) rotate(-90)" text-anchor="middle" textLength="8.25" lengthAdjust="spacingAndGlyphs">140</text>
<text class="d" transform="translate(301.4 679.6) rotate(-90)" text-anchor="middle" textLength="8.25" lengthAdjust="spacingAndGlyphs">170</text>
<line class="t" x1="389.3" y1="633.5" x2="389.3" y2="691.3"/>
<text class="d" transform="translate(387.7 679.6) rotate(-90)" text-anchor="middle" textLength="8.25" lengthAdjust="spacingAndGlyphs">140</text>
<text class="d" transform="translate(395.2 679.6) rotate(-90)" text-anchor="middle" textLength="8.25" lengthAdjust="spacingAndGlyphs">170</text>
<line class="t" x1="487" y1="633.5" x2="487" y2="691.3"/>
<text class="d" transform="translate(485.4 679.6) rotate(-90)" text-anchor="middle" textLength="8.25" lengthAdjust="spacingAndGlyphs">140</text>
<text class="d" transform="translate(492.9 679.6) rotate(-90)" text-anchor="middle" textLength="8.25" lengthAdjust="spacingAndGlyphs">170</text>
<line class="t" x1="587.5" y1="633.5" x2="587.5" y2="691.3"/>
<text class="d" transform="translate(585.9 679.6) rotate(-90)" text-anchor="middle" textLength="8.25" lengthAdjust="spacingAndGlyphs">140</text>
<text class="d" transform="translate(593.4 679.6) rotate(-90)" text-anchor="middle" textLength="8.25" lengthAdjust="spacingAndGlyphs">170</text>
<line class="t" x1="519.8" y1="618.8" x2="633" y2="618.8"/>
<line class="tk" x1="518.67" y1="619.93" x2="520.93" y2="617.67"/>
<line class="tk" x1="631.87" y1="619.93" x2="634.13" y2="617.67"/>
<text class="d" transform="translate(575.5 617.9)" text-anchor="middle" textLength="8.25" lengthAdjust="spacingAndGlyphs">290</text>
<line class="t" x1="285.4" y1="249.4" x2="404.1" y2="249.4"/>
<line class="tk" x1="284.27" y1="250.53" x2="286.53" y2="248.27"/>
<line class="tk" x1="402.97" y1="250.53" x2="405.23" y2="248.27"/>
<text class="d" transform="translate(344.6 248.5)" text-anchor="middle" textLength="8.25" lengthAdjust="spacingAndGlyphs">305</text>
<line class="t" x1="285.4" y1="369.9" x2="523" y2="369.9"/>
<line class="tk" x1="284.27" y1="371.03" x2="286.53" y2="368.77"/>
<line class="tk" x1="402.87" y1="371.03" x2="405.13" y2="368.77"/>
<line class="tk" x1="521.87" y1="371.03" x2="524.13" y2="368.77"/>
<text class="d" transform="translate(344.8 369.1)" text-anchor="middle" textLength="8.25" lengthAdjust="spacingAndGlyphs">305</text>
<text class="d" transform="translate(464 368.9)" text-anchor="middle" textLength="12.3" lengthAdjust="spacingAndGlyphs">306.5</text>
<line class="t" x1="310.4" y1="220.5" x2="310.4" y2="413"/>
<line class="tk" x1="309.27" y1="221.63" x2="311.53" y2="219.37"/>
<line class="tk" x1="309.27" y1="414.13" x2="311.53" y2="411.87"/>
<text class="d" transform="translate(309.3 317.5) rotate(-90)" text-anchor="middle" textLength="8.25" lengthAdjust="spacingAndGlyphs">408</text>
<g transform="translate(323.7 347.6)">
<rect class="tg" x="0" y="0" width="50.4" height="11.2"/>
<line class="tg" x1="0" y1="5.6" x2="50.4" y2="5.6"/>
<line class="tg" x1="19.2" y1="0" x2="19.2" y2="11.2"/>
<text class="tt" x="4.6" y="4.8" textLength="10" lengthAdjust="spacingAndGlyphs">03/08</text>
<text class="tt" x="20.8" y="4.8" textLength="17.5" lengthAdjust="spacingAndGlyphs">KUCHNIA</text>
<text class="tt" x="3.2" y="10.4" textLength="14.6" lengthAdjust="spacingAndGlyphs">21,87m²</text>
<text class="tt" x="21" y="10.4" textLength="16.4" lengthAdjust="spacingAndGlyphs">terakota</text>
</g>
<rect class="fu" x="324.4" y="252.6" width="34.9" height="69.8"/>
<rect class="fu" x="302.5" y="254.5" width="20" height="20"/>
<rect class="fu" x="361" y="254.5" width="19.8" height="20"/>
<line class="gl" x1="304.5" y1="254.5" x2="304.5" y2="274.5"/>
<line class="gl" x1="378.8" y1="254.5" x2="378.8" y2="274.5"/>
<rect class="fu" x="302.5" y="277.5" width="20" height="20"/>
<rect class="fu" x="361" y="277.5" width="19.8" height="20"/>
<line class="gl" x1="304.5" y1="277.5" x2="304.5" y2="297.5"/>
<line class="gl" x1="378.8" y1="277.5" x2="378.8" y2="297.5"/>
<rect class="fu" x="302.5" y="300.5" width="20" height="20"/>
<rect class="fu" x="361" y="300.5" width="19.8" height="20"/>
<line class="gl" x1="304.5" y1="300.5" x2="304.5" y2="320.5"/>
<line class="gl" x1="378.8" y1="300.5" x2="378.8" y2="320.5"/>
<rect class="fu" x="332" y="231" width="19.6" height="19.6"/>
<line class="gl" x1="332" y1="233" x2="351.6" y2="233"/>
<rect class="fu" x="332.4" y="324.2" width="19.8" height="20.4"/>
<line class="gl" x1="332.4" y1="342.6" x2="352.2" y2="342.6"/>
<rect class="g" x="409.4" y="275" width="7" height="7"/>
<line class="g" x1="409.4" y1="282" x2="416.4" y2="275"/>
<rect class="g" x="423.7" y="286.8" width="7.1" height="12.5"/>
<line class="g" x1="423.7" y1="294" x2="430.8" y2="286.8"/>
<line class="g" x1="423.7" y1="294" x2="430.8" y2="294"/>
<path class="gl" d="M404.3 300.6 V323.3 H474.2"/>
<line class="gl" x1="427" y1="300.6" x2="427" y2="323.3"/>
<line class="gl" x1="450.6" y1="300.6" x2="450.6" y2="323.3"/>
<line class="gl" x1="474.2" y1="300.6" x2="474.2" y2="323.3"/>
<line class="gl" x1="474.2" y1="323.3" x2="522.67" y2="349.63"/>
<circle class="gl" cx="433" cy="304.5" r="1.6"/>
<circle class="gl" cx="433" cy="304.5" r="2.9"/>
<circle class="gl" cx="433" cy="304.5" r="4.1"/>
<circle class="gl" cx="445.3" cy="306" r="1.6"/>
<circle class="gl" cx="445.3" cy="306" r="2.9"/>
<circle class="gl" cx="445.3" cy="306" r="4.1"/>
<circle class="gl" cx="445.3" cy="315.8" r="1.6"/>
<circle class="gl" cx="445.3" cy="315.8" r="2.9"/>
<circle class="gl" cx="445.3" cy="315.8" r="4.1"/>
<g transform="translate(432.5 260) rotate(25.54)">
<rect class="g" x="88.5" y="17.8" width="24.5" height="18.8" rx="1"/>
<rect class="g" x="90.3" y="19.6" width="9.5" height="15.2" rx="1"/><circle class="g" cx="95" cy="27.5" r="0.8"/>
<line class="g" x1="101.6" y1="20.4" x2="111.6" y2="20.4"/>
<line class="g" x1="101.6" y1="22.1" x2="111.6" y2="22.1"/>
<line class="g" x1="101.6" y1="23.8" x2="111.6" y2="23.8"/>
<line class="g" x1="101.6" y1="25.5" x2="111.6" y2="25.5"/>
<line class="g" x1="101.6" y1="27.2" x2="111.6" y2="27.2"/>
<line class="g" x1="101.6" y1="28.9" x2="111.6" y2="28.9"/>
<line class="g" x1="101.6" y1="30.6" x2="111.6" y2="30.6"/>
<line class="g" x1="101.6" y1="32.3" x2="111.6" y2="32.3"/>
<line class="g" x1="101.6" y1="34" x2="111.6" y2="34"/>
<rect class="g" x="100.8" y="19.4" width="11.4" height="15.6" rx="0.8"/>
<line class="tk" x1="95" y1="20.5" x2="95" y2="24.5"/>
</g>
<path class="g" d="M397 394.3 A33.7 33.7 0 0 0 363.3 428"/>
<rect class="gf" x="396" y="394.3" width="2" height="19.7"/>
<g transform="translate(434.2 383.3)">
<rect class="tg" x="0" y="0" width="50.4" height="11.2"/>
<line class="tg" x1="0" y1="5.6" x2="50.4" y2="5.6"/>
<line class="tg" x1="22" y1="0" x2="22" y2="11.2"/>
<text class="tt" x="4.6" y="4.8" textLength="12.8" lengthAdjust="spacingAndGlyphs">03/10</text>
<text class="tt" x="23.6" y="4.8" textLength="25" lengthAdjust="spacingAndGlyphs">POM. GOSP.</text>
<text class="tt" x="3.2" y="10.4" textLength="17.4" lengthAdjust="spacingAndGlyphs">2,30 m²</text>
<text class="tt" x="23.8" y="10.4" textLength="16.4" lengthAdjust="spacingAndGlyphs">terakota</text>
</g>
<text class="d" transform="translate(465 402.7)" text-anchor="middle" textLength="8.25" lengthAdjust="spacingAndGlyphs">290</text>
<line class="t" x1="407.5" y1="403.3" x2="514.66" y2="403.3"/>
<line class="t" x1="424.3" y1="381.5" x2="424.3" y2="414"/>
<line class="tk" x1="423.17" y1="382.63" x2="425.43" y2="380.37"/>
<line class="tk" x1="423.17" y1="415.13" x2="425.43" y2="412.87"/>
<text class="d" transform="translate(423.7 397.4) rotate(-90)" text-anchor="middle" textLength="5.5" lengthAdjust="spacingAndGlyphs">84</text>
<rect class="g" x="471.3" y="418.8" width="6.3" height="7.4"/>
<line class="g" x1="471.3" y1="426.2" x2="477.6" y2="418.8"/>
<rect class="g" x="482" y="418.8" width="6.3" height="7.4"/>
<line class="g" x1="482" y1="426.2" x2="488.3" y2="418.8"/>
<line class="g" x1="474.3" y1="405" x2="474.3" y2="437.5"/>
<text class="gb" transform="translate(435.4 457.3)" text-anchor="middle" textLength="21" lengthAdjust="spacingAndGlyphs">+3.50</text>
<path class="g" d="M423.5 458.6 H447.5 M426.5 458.6 L431 464.2 L435.5 458.6"/>
<path class="g" d="M440.5 528.8 C459 528 459 550.5 440.5 550"/>
<path class="g" d="M440.5 531 C455.5 530.5 455.5 548 440.5 547.8"/>
<circle class="g" cx="444.6" cy="539.4" r="0.9"/>
<line class="g" x1="447.5" y1="489.5" x2="447.5" y2="565.6"/>
<rect class="g" x="447.8" y="570.2" width="5.2" height="14.6"/>
<path class="g" d="M453 570.6 H464 Q468.2 570.6 468.2 574.6 V580.4 Q468.2 584.4 464 584.4 H453"/>
<rect class="g" x="455.2" y="572.3" width="11" height="10.4" rx="2.2"/>
<rect class="g" x="457.2" y="574.6" width="4" height="4.6" rx="0.8"/>
<rect class="g" x="455.6" y="606.6" width="57" height="27.4" rx="13.5"/>
<rect class="g" x="457" y="608" width="54.2" height="24.6" rx="12.3"/>
<rect class="g" x="469.4" y="614.4" width="29.4" height="13.8" rx="6.9"/>
<circle class="g" cx="483.8" cy="621.6" r="0.8"/>
<circle class="g" cx="446.3" cy="629.6" r="1.8"/>
<line class="g" x1="451" y1="629.6" x2="455" y2="629.6"/>
<line class="tk" x1="483" y1="609.5" x2="485" y2="609.5"/>
<line class="g" x1="492.05" y1="288.46" x2="527.24" y2="305.27"/>
<line class="g" x1="486.45" y1="300.19" x2="521.64" y2="317"/>
<polygon class="wb" points="491.27,294.73 522.85,309.82 521.3,313.07 489.72,297.98"/>
<line class="g" x1="490.49" y1="296.36" x2="522.07" y2="311.45"/>
<line class="g" x1="564.87" y1="323.25" x2="600.69" y2="340.36"/>
<line class="g" x1="558.4" y1="336.78" x2="594.22" y2="353.9"/>
<polygon class="wb" points="564,329.7 596.21,345.1 594.66,348.34 562.44,332.95"/>
<line class="g" x1="563.22" y1="331.33" x2="595.43" y2="346.72"/>
<line class="g" x1="694.61" y1="385.25" x2="730.25" y2="402.28"/>
<line class="g" x1="688.15" y1="398.78" x2="723.79" y2="415.81"/>
<polygon class="wb" points="693.75,391.7 725.78,407.01 724.22,410.26 692.19,394.95"/>
<line class="g" x1="692.97" y1="393.33" x2="725" y2="408.63"/>
<line class="t" x1="517.79" y1="281.91" x2="498.39" y2="322.51"/>
<text class="d" transform="translate(512.8 288.4) rotate(-64.46)" text-anchor="middle" textLength="8.25" lengthAdjust="spacingAndGlyphs">100</text>
<text class="d" transform="translate(520.02 291.85) rotate(-64.46)" text-anchor="middle" textLength="8.25" lengthAdjust="spacingAndGlyphs">166</text>
<line class="t" x1="590.06" y1="316.45" x2="570.66" y2="357.05"/>
<text class="d" transform="translate(585.08 322.93) rotate(-64.46)" text-anchor="middle" textLength="8.25" lengthAdjust="spacingAndGlyphs">100</text>
<text class="d" transform="translate(592.3 326.38) rotate(-64.46)" text-anchor="middle" textLength="8.25" lengthAdjust="spacingAndGlyphs">166</text>
<line class="t" x1="719.99" y1="378.53" x2="700.59" y2="419.13"/>
<text class="d" transform="translate(715.01 385.02) rotate(-64.46)" text-anchor="middle" textLength="8.25" lengthAdjust="spacingAndGlyphs">100</text>
<text class="d" transform="translate(722.22 388.46) rotate(-64.46)" text-anchor="middle" textLength="8.25" lengthAdjust="spacingAndGlyphs">275</text>
<text class="gt" transform="translate(479.62 306.35) rotate(25.54)" text-anchor="start" textLength="25" lengthAdjust="spacingAndGlyphs">Hp=87cm.</text>
<text class="gt" transform="translate(575.07 353.62) rotate(25.54)" text-anchor="start" textLength="25" lengthAdjust="spacingAndGlyphs">Hp=85cm.</text>
<text class="gt" transform="translate(547.32 365.29) rotate(25.54)" text-anchor="start" textLength="36" lengthAdjust="spacingAndGlyphs">Hpom.=282cm</text>
<text class="gb" transform="translate(715 403.2)" text-anchor="start" textLength="17.5" lengthAdjust="spacingAndGlyphs">+2.10</text>
<path class="g" d="M707.5 400.5 L721.5 405.2 M708.8 401 L713.6 409.5 L720 404.8"/>
<line class="st" x1="595.66" y1="354.59" x2="576.69" y2="394.29"/>
<line class="st" x1="572.81" y1="402.41" x2="554.92" y2="439.85"/>
<line class="st" x1="605.08" y1="359.09" x2="586.11" y2="398.79"/>
<line class="st" x1="582.23" y1="406.91" x2="564.34" y2="444.36"/>
<line class="st" x1="614.5" y1="363.59" x2="595.53" y2="403.29"/>
<line class="st" x1="591.65" y1="411.41" x2="573.76" y2="448.86"/>
<line class="st" x1="623.92" y1="368.09" x2="604.95" y2="407.79"/>
<line class="st" x1="601.07" y1="415.91" x2="583.18" y2="453.36"/>
<line class="st" x1="633.34" y1="372.59" x2="614.37" y2="412.29"/>
<line class="st" x1="610.49" y1="420.41" x2="592.6" y2="457.86"/>
<line class="st" x1="642.76" y1="377.09" x2="623.79" y2="416.79"/>
<line class="st" x1="619.91" y1="424.92" x2="602.02" y2="462.36"/>
<line class="st" x1="652.18" y1="381.6" x2="633.21" y2="421.3"/>
<line class="st" x1="629.33" y1="429.42" x2="611.44" y2="466.86"/>
<line class="st" x1="661.6" y1="386.1" x2="642.63" y2="425.8"/>
<line class="st" x1="638.75" y1="433.92" x2="620.86" y2="471.36"/>
<line class="st" x1="671.02" y1="390.6" x2="652.05" y2="430.3"/>
<line class="st" x1="648.17" y1="438.42" x2="630.28" y2="475.86"/>
<line class="st" x1="680.44" y1="395.1" x2="661.47" y2="434.8"/>
<line class="st" x1="657.59" y1="442.92" x2="639.7" y2="480.36"/>
<line class="st" x1="567.6" y1="341.18" x2="553.8" y2="370.05"/>
<line class="st" x1="576.8" y1="345.58" x2="563.01" y2="374.45"/>
<line class="st" x1="586.28" y1="350.1" x2="567.31" y2="389.81"/>
<line class="g" x1="689.86" y1="399.6" x2="676.93" y2="426.67"/>
<polygon class="g" points="571.1,391.62 668.91,438.35 665.03,446.47 567.22,399.74"/>
<polygon class="g" points="571.95,394.46 666.15,439.47 664.17,443.63 569.97,398.61"/>
<line class="gl" x1="570.96" y1="396.54" x2="665.16" y2="441.55"/>
<line class="g" x1="551.46" y1="358.96" x2="670.56" y2="415.87"/>
<line class="g" x1="558.09" y1="416.99" x2="658.24" y2="464.84"/>
<polygon class="g" points="669.4,394.4 672.2,394.6 671,416"/>
<path class="g" d="M632 376 L632.6 398 L613 413 M632.6 398 L650.5 385"/>
<line class="t" x1="545.08" y1="352.59" x2="719.49" y2="435.93"/>
<line class="tk" x1="543.57" y1="353.12" x2="546.59" y2="352.05"/>
<line class="tk" x1="717.99" y1="436.46" x2="721" y2="435.39"/>
<text class="d" transform="translate(612.52 384.26) rotate(25.54)" text-anchor="middle" textLength="12.3" lengthAdjust="spacingAndGlyphs">492.5</text>
<text class="gt" transform="translate(628.53 404.1) rotate(25.54)" text-anchor="start" textLength="32" lengthAdjust="spacingAndGlyphs">10x16.0x27</text>
<text class="gt" transform="translate(596.4 433.07) rotate(25.54)" text-anchor="start" textLength="32" lengthAdjust="spacingAndGlyphs">10x15.7x27</text>
<g transform="translate(543.45 366.44) rotate(25.54)">
<rect class="tg" x="0" y="0" width="50.4" height="11.2"/>
<line class="tg" x1="0" y1="5.6" x2="50.4" y2="5.6"/>
<line class="tg" x1="20.6" y1="0" x2="20.6" y2="11.2"/>
<text class="tt" x="4.6" y="4.8" textLength="11.4" lengthAdjust="spacingAndGlyphs">03/01</text>
<text class="tt" x="22.2" y="4.8" textLength="25" lengthAdjust="spacingAndGlyphs">KL. SCHOD.</text>
<text class="tt" x="3.2" y="10.4" textLength="16" lengthAdjust="spacingAndGlyphs">17,60m²</text>
<text class="tt" x="22.4" y="10.4" textLength="12.3" lengthAdjust="spacingAndGlyphs">l.gres</text>
</g>
<line class="g" x1="727.62" y1="419.86" x2="711.02" y2="454.6"/>
<line class="t" x1="569.91" y1="340.07" x2="528.95" y2="425.78"/>
<line class="tk" x1="567.54" y1="342.4" x2="570.55" y2="341.34"/>
<line class="tk" x1="527.66" y1="425.86" x2="530.67" y2="424.8"/>
<text class="d" transform="translate(544.5 389.99) rotate(-64.46)" text-anchor="middle" textLength="12.3" lengthAdjust="spacingAndGlyphs">237.5</text>
<path class="g" d="M537.2 411.99 h14 M539.2 411.99 l4 5.4 l4 -5.4"/>
<line class="t" x1="539.23" y1="325.41" x2="497.84" y2="412.03"/>
<line class="tk" x1="537.72" y1="325.94" x2="540.74" y2="324.87"/>
<line class="tk" x1="519.18" y1="364.74" x2="522.2" y2="363.67"/>
<line class="tk" x1="497.19" y1="410.75" x2="500.21" y2="409.69"/>
<text class="d" transform="translate(525.82 351.14) rotate(-64.46)" text-anchor="middle" textLength="8.25" lengthAdjust="spacingAndGlyphs">132</text>
<text class="d" transform="translate(503.64 395.95) rotate(-64.46)" text-anchor="middle" textLength="5.5" lengthAdjust="spacingAndGlyphs">90</text>
<line class="gl" x1="501.01" y1="339.29" x2="549.73" y2="362.57"/>
<path class="g" d="M536.7 473.1 A36.3 36.3 0 0 1 520.7 424.5"/>
<polygon class="gf" points="553.2,441.4 535.9,472.7 537.5,473.6 554.8,442.3"/>
<text class="d" transform="translate(539.91 452.28) rotate(25.54)" text-anchor="middle" textLength="12.3" lengthAdjust="spacingAndGlyphs">152.5</text>
<line class="t" x1="504.99" y1="436.5" x2="566.16" y2="465.73"/>
<g transform="translate(620.29 481.18) rotate(25.54)"><rect class="g" x="-3.3" y="-3.3" width="6.6" height="6.6"/><line class="g" x1="-3.3" y1="3.3" x2="3.3" y2="-3.3"/></g>
<text class="gb" transform="translate(680.8 469.2)" text-anchor="middle" textLength="20.5" lengthAdjust="spacingAndGlyphs">+1.93</text>
<path class="g" d="M668.8 470.5 H695.8 M670.8 470.5 L676.3 477.5 L681.8 470.5"/>
<line class="t" x1="559.68" y1="483.69" x2="676.44" y2="539.48"/>
<text class="d" transform="translate(619.18 511.34) rotate(25.54)" text-anchor="middle" textLength="8.25" lengthAdjust="spacingAndGlyphs">325</text>
<line class="tk" x1="674.93" y1="540.02" x2="677.95" y2="538.95"/>
<line class="g" x1="697.74" y1="534.92" x2="674.84" y2="584.81"/>
<line class="g" x1="682.29" y1="527.83" x2="659.39" y2="577.72"/>
<line class="g" x1="689.78" y1="533.8" x2="668.76" y2="579.6"/>
<line class="g" x1="688.42" y1="533.17" x2="667.4" y2="578.98"/>
<line class="g" x1="687.05" y1="532.54" x2="666.03" y2="578.35"/>
<line class="g" x1="689.78" y1="533.8" x2="687.05" y2="532.54"/>
<line class="g" x1="668.76" y1="579.6" x2="666.03" y2="578.35"/>
<line class="g" x1="677.53" y1="587.59" x2="639.37" y2="670.75"/>
<line class="t" x1="659" y1="546.7" x2="702.5" y2="567.5"/>
<line class="t" x1="666.13" y1="521.07" x2="616.21" y2="629.86"/>
<line class="tk" x1="620.42" y1="624.51" x2="617.42" y2="623.4"/>
<text class="d" transform="translate(640.49 574.06) rotate(-65.35)" text-anchor="middle" textLength="8.25" lengthAdjust="spacingAndGlyphs">307</text>
<line class="t" x1="753.5" y1="413.4" x2="778.3" y2="424.1"/>
<line class="t" x1="778.3" y1="424.1" x2="665" y2="680"/>
<line class="tk" x1="776.8" y1="424.65" x2="779.8" y2="423.55"/>
<line class="tk" x1="663.5" y1="680.55" x2="666.5" y2="679.45"/>
<line class="t" x1="640.5" y1="669.25" x2="665" y2="680"/>
<text class="d" transform="translate(720.69 551.36) rotate(-65.35)" text-anchor="middle" textLength="8.25" lengthAdjust="spacingAndGlyphs">779</text>
<rect class="w" x="678.5" y="167.2" width="25.5" height="8.4" style="fill:#e2e2e2;stroke:#333;stroke-width:1"/>
<text class="lg" x="716.4" y="171.1" textLength="98" lengthAdjust="spacing">ściana działowa projektowana</text>
<text class="lg" x="716.4" y="180" textLength="163.4" lengthAdjust="spacing">lekka gipsowo-kartonowa na konstrukcji stalowej</text>
<text class="lg" x="716.4" y="189" textLength="123" lengthAdjust="spacing">C75mm wypełnienie wełna mineralna</text>
<g opacity="0.84">
<path d="M441.2 305.6 A37.7 37.7 0 1 1 426.8 321.8" fill="none" stroke="#787878" stroke-width="1.3"/>
<path d="M441.4 306.6 Q446 303 452.5 301.6" stroke="#808080" stroke-width="1.9" fill="none" stroke-linecap="round"/>
<path class="wm" d="M420.2 305.5 H436 L464.3 372.4 L462.4 375.5 H458.4 L428.3 307.9 H420.2 Z"/>
<path d="M486.3 313 L463.6 369" stroke="#7a7a7a" stroke-width="1.5" fill="none"/>
<text x="356.1" y="443" text-anchor="middle" textLength="46" lengthAdjust="spacingAndGlyphs" style="font-family:'Liberation Serif',serif;font-size:64.5px;fill:#888">V</text>
<text x="409.9" y="443" text-anchor="middle" textLength="13" lengthAdjust="spacingAndGlyphs" style="font-family:'Liberation Serif',serif;font-size:64.5px;fill:#888">I</text>
<text x="451.3" y="443" text-anchor="middle" textLength="28.2" lengthAdjust="spacingAndGlyphs" style="font-family:'Liberation Serif',serif;font-size:64.5px;fill:#888">L</text>
<text x="502" y="443" text-anchor="middle" textLength="32.4" lengthAdjust="spacingAndGlyphs" style="font-family:'Liberation Serif',serif;font-size:64.5px;fill:#888">E</text>
<text x="558.3" y="443" text-anchor="middle" textLength="44.2" lengthAdjust="spacingAndGlyphs" style="font-family:'Liberation Serif',serif;font-size:64.5px;fill:#888">A</text>
<text x="382.5" y="466.6" textLength="153.4" lengthAdjust="spacing" style="font-family:'Liberation Sans',sans-serif;font-size:11.4px;fill:#949494">PROPERTY BOUTIQUE</text>
</g>
</svg>
</body></html>
